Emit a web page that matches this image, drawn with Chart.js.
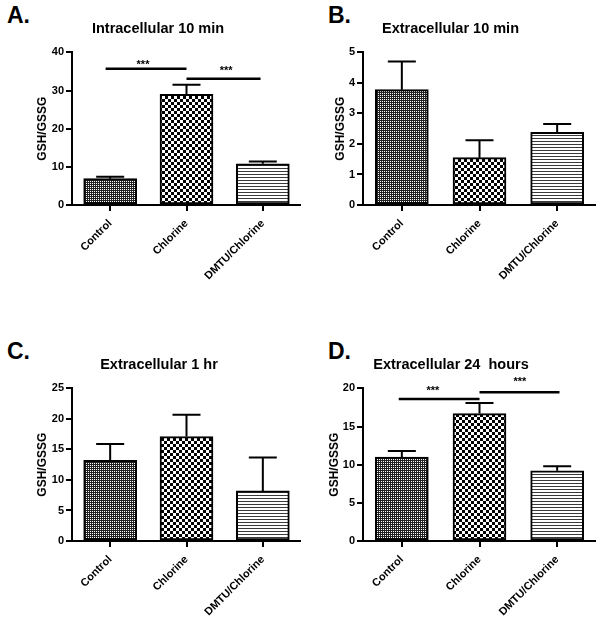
<!DOCTYPE html>
<html>
<head>
<meta charset="utf-8">
<script src="https://cdn.jsdelivr.net/npm/chart.js@4.4.0/dist/chart.umd.min.js"></script>
<style>
  html, body { margin: 0; padding: 0; background: #fff; }
  #page { position: relative; width: 600px; height: 619px; overflow: hidden; font-family: "Liberation Sans", Arial, sans-serif; }
  .panel { position: absolute; }
  .letter { position: absolute; font-weight: bold; font-size: 23px; line-height: 23px; color: #000; }
</style>
</head>
<body>
<div id="page">
  <div class="letter" style="left:7px;top:4px">A.</div>
  <div class="letter" style="left:328px;top:4px">B.</div>
  <div class="letter" style="left:7px;top:340px">C.</div>
  <div class="letter" style="left:328px;top:340px">D.</div>
  <canvas class="panel" id="chartA" width="286" height="300" style="left:15px;top:0px"></canvas>
  <canvas class="panel" id="chartB" width="291" height="300" style="left:305px;top:0px"></canvas>
  <canvas class="panel" id="chartC" width="284" height="283" style="left:17px;top:336px"></canvas>
  <canvas class="panel" id="chartD" width="290" height="283" style="left:306px;top:336px"></canvas>
</div>
<script>
const categories = ['Control', 'Chlorine', 'DMTU/Chlorine'];

// A. Intracellular 10 min
const intra10Values = [6.9, 29.0, 10.8];
const intra10Errors = [0.5, 2.5, 0.6];
// B. Extracellular 10 min
const extra10Values = [3.78, 1.55, 2.38];
const extra10Errors = [0.92, 0.57, 0.27];
// C. Extracellular 1 hr
const extra1hValues = [13.2, 17.1, 8.2];
const extra1hErrors = [2.7, 3.6, 5.5];
// D. Extracellular 24 hours
const extra24hValues = [11.0, 16.7, 9.2];
const extra24hErrors = [0.8, 1.4, 0.6];

// significance bars (x in category units, y in axis units)
const sigAFrom = [-0.06, 1.0];
const sigATo = [1.0, 1.97];
const sigAY = [35.7, 33.1];
const sigAStarX = [0.43, 1.52];
const sigAStarY = [37.6, 35.8];
const sigDFrom = [-0.04, 1.0];
const sigDTo = [1.0, 2.03];
const sigDY = [18.6, 19.5];
const sigDStarX = [0.4, 1.52];
const sigDStarY = [20.0, 21.2];

const fontFamily = '"Liberation Sans", Arial, sans-serif';
Chart.defaults.font.family = fontFamily;

function makePattern(w, h, draw) {
    const c = document.createElement('canvas');
    c.width = w;
    c.height = h;
    const g = c.getContext('2d');
    g.fillStyle = '#fff';
    g.fillRect(0, 0, w, h);
    draw(g);
    return g.createPattern(c, 'repeat');
}

const dotPattern = makePattern(2, 2, function(g) {
    g.fillStyle = '#222';
    g.fillRect(0, 0, 2, 1);
    g.fillRect(0, 1, 1, 1);
});
const checkPattern = makePattern(6, 6, function(g) {
    g.fillStyle = '#000';
    g.fillRect(0, 0, 3, 3);
    g.fillRect(3, 3, 3, 3);
});
const stripePattern = makePattern(3, 3, function(g) {
    g.fillStyle = '#3a3a3a';
    g.fillRect(0, 0, 3, 1);
});

const errorBars = {
    id: 'errorBars',
    afterDatasetsDraw(chart) {
        const ctx = chart.ctx;
        const yScale = chart.scales.y;
        const ds = chart.data.datasets[0];
        const meta = chart.getDatasetMeta(0);
        ctx.save();
        ctx.strokeStyle = '#000';
        ctx.lineWidth = 2;
        meta.data.forEach(function(bar, i) {
            const top = yScale.getPixelForValue(ds.data[i] + ds.errors[i]);
            ctx.beginPath();
            ctx.moveTo(bar.x, bar.y);
            ctx.lineTo(bar.x, top);
            ctx.moveTo(bar.x - 14, top);
            ctx.lineTo(bar.x + 14, top);
            ctx.stroke();
        });
        ctx.restore();
    }
};

const sigBars = {
    id: 'sigBars',
    afterDatasetsDraw(chart) {
        const sig = chart.data.datasets[0].sig;
        if (!sig) return;
        const ctx = chart.ctx;
        const xs = chart.scales.x, ys = chart.scales.y;
        ctx.save();
        ctx.strokeStyle = '#000';
        ctx.fillStyle = '#000';
        ctx.lineWidth = 2.5;
        ctx.font = 'bold 11px ' + fontFamily;
        ctx.textAlign = 'center';
        ctx.textBaseline = 'alphabetic';
        for (let i = 0; i < sig.from.length; ++i) {
            const y = ys.getPixelForValue(sig.y[i]);
            ctx.beginPath();
            ctx.moveTo(xs.getPixelForValue(sig.from[i]), y);
            ctx.lineTo(xs.getPixelForValue(sig.to[i]), y);
            ctx.stroke();
            ctx.fillText('***', xs.getPixelForValue(sig.starX[i]), ys.getPixelForValue(sig.starY[i]) + 6);
        }
        ctx.restore();
    }
};

function drawPanel(p) {
    new Chart(p.id, {
        type: 'bar',
        data: {
            labels: categories,
            datasets: [{
                data: p.values,
                errors: p.errors,
                sig: p.sig,
                backgroundColor: [dotPattern, checkPattern, stripePattern],
                borderColor: '#000',
                borderWidth: 2,
                borderSkipped: false,
                barThickness: 53,
            }]
        },
        options: {
            responsive: false,
            animation: false,
            events: [],
            layout: { padding: 0 },
            plugins: {
                legend: { display: false },
                tooltip: { enabled: false },
                title: {
                    display: true,
                    text: p.title,
                    color: '#000',
                    font: { size: 14.5, weight: 'bold' },
                    padding: { top: 20, bottom: 15 },
                }
            },
            scales: {
                x: {
                    offset: true,
                    ticks: {
                        color: '#000',
                        font: { size: 11, weight: 'bold' },
                        minRotation: 45,
                        maxRotation: 45,
                        autoSkip: false,
                        padding: 6,
                    },
                    grid: {
                        drawOnChartArea: false,
                        drawTicks: true,
                        tickLength: 6,
                        offset: false,
                        color: '#000',
                        lineWidth: 2,
                    },
                    border: { display: true, color: '#000', width: 2 },
                    afterFit: function(s) { s.height = p.xHeight; }
                },
                y: {
                    min: 0,
                    max: p.yMax,
                    ticks: {
                        stepSize: p.step,
                        color: '#000',
                        font: { size: 11, weight: 'bold' },
                        padding: 2,
                    },
                    grid: {
                        drawOnChartArea: false,
                        drawTicks: true,
                        tickLength: 6,
                        color: '#000',
                        lineWidth: 2,
                    },
                    border: { display: true, color: '#000', width: 2 },
                    title: {
                        display: true,
                        text: 'GSH/GSSG',
                        color: '#000',
                        font: { size: 12, weight: 'bold' },
                        padding: { top: p.yTitlePad, bottom: 0 },
                    },
                    afterFit: function(s) { s.width = p.yWidth; }
                }
            }
        },
        plugins: [errorBars, sigBars]
    });
}

drawPanel({ id: 'chartA', title: 'Intracellular 10 min', values: intra10Values, errors: intra10Errors,
    yMax: 40, step: 10, yWidth: 57, yTitlePad: 20, xHeight: 95,
    sig: { from: sigAFrom, to: sigATo, y: sigAY, starX: sigAStarX, starY: sigAStarY } });
drawPanel({ id: 'chartB', title: 'Extracellular 10 min', values: extra10Values, errors: extra10Errors,
    yMax: 5, step: 1, yWidth: 58, yTitlePad: 28.8, xHeight: 95 });
drawPanel({ id: 'chartC', title: 'Extracellular 1 hr', values: extra1hValues, errors: extra1hErrors,
    yMax: 25, step: 5, yWidth: 55, yTitlePad: 18, xHeight: 78 });
drawPanel({ id: 'chartD', title: 'Extracellular 24  hours', values: extra24hValues, errors: extra24hErrors,
    yMax: 20, step: 5, yWidth: 57, yTitlePad: 21.5, xHeight: 78,
    sig: { from: sigDFrom, to: sigDTo, y: sigDY, starX: sigDStarX, starY: sigDStarY } });
</script>
</body>
</html>
